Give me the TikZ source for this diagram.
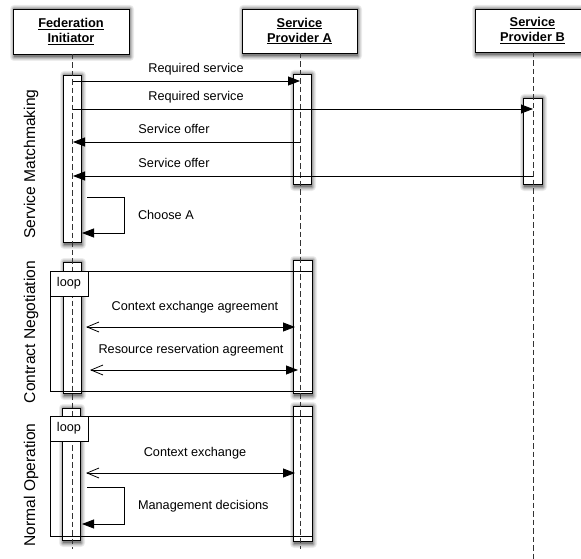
\documentclass[tikz,border=0pt]{standalone}
\usepackage{fontspec}
\setmainfont{Liberation Sans}
\usetikzlibrary{arrows.meta,fit}

\tikzset{
  every node/.style={inner sep=0pt, outer sep=0pt},
  headbox/.style={draw, line width=0.8pt, fill=white},
  headtext/.style={align=center, font=\fontsize{12.8}{15}\selectfont\bfseries},
  actbar/.style={draw, line width=0.8pt, fill=white},
  lifeline/.style={draw=black!80, line width=0.8pt, dash pattern=on 5.5pt off 3pt},
  frame/.style={draw, line width=0.8pt},
  looptag/.style={draw, line width=0.8pt, fill=white, minimum width=38pt,
      minimum height=25pt, font=\fontsize{12.7}{15}\selectfont},
  msgtext/.style={font=\fontsize{12.7}{15}\selectfont},
  phase/.style={rotate=90, font=\fontsize{15.6}{18}\selectfont},
  call/.style={line width=0.8pt, -{Triangle[length=12pt,width=9pt]}},
  both/.style={line width=0.8pt,
      {Straight Barb[length=12pt,width=10pt,line width=0.8pt]}-{Triangle[length=12pt,width=9pt]}},
}

\begin{document}
\begin{tikzpicture}[x=1pt, y=-1pt]
\useasboundingbox (0,0) rectangle (581,559);

% corners of boxes and activation bars (top left, bottom right)
\coordinate (fi-tl) at (13,9);      \coordinate (fi-br) at (129,54);
\coordinate (spa-tl) at (242,9);    \coordinate (spa-br) at (357,53);
\coordinate (spb-tl) at (475,9);    \coordinate (spb-br) at (581,52);
\coordinate (fi-b1-tl) at (63,75);  \coordinate (fi-b1-br) at (81,242);
\coordinate (spa-b1-tl) at (293,74);\coordinate (spa-b1-br) at (311,184);
\coordinate (spb-b1-tl) at (523,98);\coordinate (spb-b1-br) at (542,184);
\coordinate (fi-b2-tl) at (63,262); \coordinate (fi-b2-br) at (81,393);
\coordinate (spa-b2-tl) at (293,260);\coordinate (spa-b2-br) at (312,393);
\coordinate (fi-b3-tl) at (62,408); \coordinate (fi-b3-br) at (80,540);
\coordinate (spa-b3-tl) at (293,406);\coordinate (spa-b3-br) at (312,541);

% soft shadows, built from nested grey layers, drawn first
\foreach \n in {fi,spa,spb,fi-b1,spa-b1,spb-b1,fi-b2,spa-b2,fi-b3,spa-b3} {
  \foreach \e/\c in {4/7,3/14,2/24,1/36,0/50} {
    \fill[black!\c, rounded corners=\e pt]
      ([shift={({1pt-\e pt},{\e pt})}]\n-tl) rectangle
      ([shift={({1pt+\e pt},{-3pt-\e pt})}]\n-br);
  }
}

% participants
\node[headbox, fit=(fi-tl)(fi-br)] (fi) {};
\node[headtext] (fi-t) at (fi) {\underline{Federation}\\\underline{Initiator}};
\node[headbox, fit=(spa-tl)(spa-br)] (spa) {};
\node[headtext] (spa-t) at (spa) {\underline{Service}\\\underline{Provider A}};
\node[headbox, fit=(spb-tl)(spb-br)] (spb) {};
\node[headtext, xshift=4.5pt] (spb-t) at (spb) {\underline{Service}\\\underline{Provider B}};

% activation bars
\foreach \n in {fi-b1,spa-b1,spb-b1,fi-b2,spa-b2,fi-b3,spa-b3}
  \node[actbar, fit=(\n-tl)(\n-br)] (\n) {};

% lifelines
\coordinate (fi-end) at (72,549);
\coordinate (spa-end) at (300,549);
\coordinate (spb-end) at (533,559);
\draw[lifeline] (fi.south -| fi-end) -- (fi-end);
\draw[lifeline] (spa.south -| spa-end) -- (spa-end);
\draw[lifeline] (spb.south -| spb-end) -- (spb-end);

% phase labels
\node[phase] (ph1) at (31,164) {Service Matchmaking};
\node[phase] (ph2) at (31,332) {Contract Negotiation};
\node[phase] (ph3) at (31,485) {Normal Operation};

% service matchmaking
\coordinate (fi-m1) at (73,81);   \coordinate (spa-m1) at (300,81);
\coordinate (fi-m2) at (73,109);  \coordinate (spb-m2) at (533,109);
\coordinate (spa-m3) at (300,142); \coordinate (fi-m3) at (73,142);
\coordinate (spb-m4) at (533,176); \coordinate (fi-m4) at (73,176);
\draw[call] (fi-m1) -- (spa-m1);
\node[msgtext] (l1) at (196,69) {Required service};
\draw[call] (fi-m2) -- (spb-m2);
\node[msgtext] (l2) at (196,97) {Required service};
\draw[call] (spa-m3) -- (fi-m3);
\node[msgtext] (l3) at (174,129) {Service offer};
\draw[call] (spb-m4) -- (fi-m4);
\node[msgtext] (l4) at (174,163) {Service offer};

\coordinate (fi-s1a) at (87,197); \coordinate (fi-s1b) at (82,233);
\draw[call] (fi-s1a) -- (124,197) -- (124,233) -- (fi-s1b);
\node[msgtext, anchor=west] (l5) at (138,215) {Choose A};

% contract negotiation
\draw[frame] (50,271) rectangle (312,391);
\node[looptag, anchor=north west] (loop1) at (50,271) {loop};
\coordinate (fi-c1) at (86,327); \coordinate (spa-c1) at (295,327);
\coordinate (fi-c2) at (90,370); \coordinate (spa-c2) at (298,370);
\draw[both] (fi-c1) -- (spa-c1);
\node[msgtext] (l6) at (195,307) {Context exchange agreement};
\draw[both] (fi-c2) -- (spa-c2);
\node[msgtext] (l7) at (191,350) {Resource reservation agreement};

% normal operation
\draw[frame] (50,416) rectangle (312,536);
\node[looptag, anchor=north west] (loop2) at (50,416) {loop};
\coordinate (fi-n1) at (86,473); \coordinate (spa-n1) at (295,473);
\draw[both] (fi-n1) -- (spa-n1);
\node[msgtext] (l8) at (195,453) {Context exchange};
\coordinate (fi-s2a) at (87,487); \coordinate (fi-s2b) at (82,524);
\draw[call] (fi-s2a) -- (124,487) -- (124,524) -- (fi-s2b);
\node[msgtext, anchor=west] (l9) at (138,506) {Management decisions};
\end{tikzpicture}
\end{document}
